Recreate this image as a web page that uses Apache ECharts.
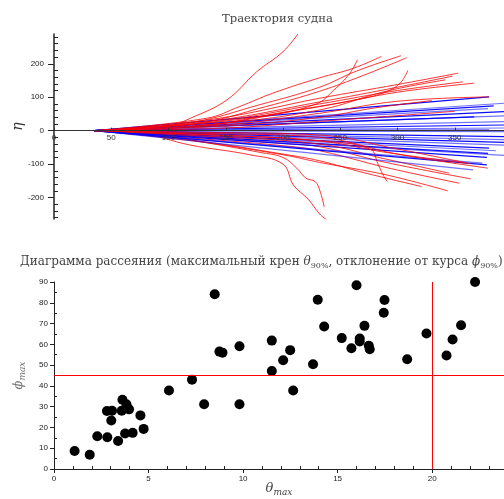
<!DOCTYPE html>
<html>
<head>
    <meta charset="utf-8">
    <title>Траектория судна</title>
    <script src="https://cdn.jsdelivr.net/npm/echarts@6.0.0/dist/echarts.min.js"></script>
    <style>
        body { margin: 0; background: #fff; }
        #chartmain { width: 504px; height: 499px; }
    </style>
</head>
<body>
<div id="chartmain"></div>
<script type="text/javascript">
    // траектории (xi, eta), крен выше порога - красные, остальные - синие
    var redTracks = [
        [[35,0],[98,12],[119,37],[151,92],[177,176],[200,236],[213,289]],
        [[35,0],[133,37],[162,72],[191,112],[232,158],[261,186],[286,222]],
        [[35,0],[120,25],[180,78],[232,130],[264,178],[303,224]],
        [[35,0],[125,22],[185,72],[232,118],[270,165],[308,218]],
        [[35,0],[120,12],[180,40],[229,80],[244,120],[258,170],[265,212]],
        [[35,0],[130,15],[200,55],[260,90],[287,112],[302,141],[309,180]],
        [[35,0],[140,35],[232,97],[300,138],[353,172]],
        [[35,0],[140,30],[232,86],[300,130],[348,163]],
        [[35,0],[140,25],[232,72],[300,115],[367,142]],
        [[35,0],[140,27],[232,80],[300,120],[357,146]],
        [[35,0],[140,20],[232,62],[290,118],[342,152]],
        [[35,0],[150,18],[232,52],[300,88],[380,101]],
        [[35,0],[150,14],[232,40],[280,68],[330,90]],
        [[35,0],[150,8],[232,28],[300,45],[350,58]],
        [[35,0],[90,-12],[140,-40],[180,-65],[200,-80],[212,-112],[220,-142],[228,-152],[232,-177],[236,-228]],
        [[35,0],[75,-7],[119,-43],[171,-72],[200,-100],[209,-162],[222,-205],[232,-249],[238,-266]],
        [[35,0],[120,-30],[200,-72],[232,-95],[290,-132],[344,-180]],
        [[35,0],[120,-22],[200,-45],[232,-60],[290,-110],[354,-157]],
        [[35,0],[120,-18],[200,-38],[232,-48],[290,-95],[364,-144]],
        [[35,0],[120,-28],[200,-70],[232,-90],[270,-125],[321,-167]],
        [[35,0],[130,-16],[232,-40],[290,-85],[345,-127]],
        [[35,0],[150,-14],[232,-30],[276,-55],[283,-100],[287,-130],[291,-152]],
        [[35,0],[130,-12],[232,-31],[290,-65],[360,-97]],
        [[35,0],[130,-8],[232,-20],[300,-70],[379,-112]],
        [[35,0],[130,-5],[232,-13],[300,-55],[364,-99]]
    ];
    var blueTracks = [
        [[35,0],[380,101]],
        [[35,0],[393,82]],
        [[35,0],[384,74]],
        [[35,0],[379,66]],
        [[35,0],[393,57]],
        [[35,0],[393,44]],
        [[35,0],[367,41]],
        [[35,0],[393,27]],
        [[35,0],[393,17]],
        [[35,0],[393,8]],
        [[35,0],[380,2]],
        [[35,0],[393,-3]],
        [[35,0],[393,-18]],
        [[35,0],[393,-27]],
        [[35,0],[393,-35]],
        [[35,0],[393,-43]],
        [[35,0],[380,-52]],
        [[35,0],[386,-60]],
        [[35,0],[379,-68]],
        [[35,0],[393,-74]],
        [[35,0],[378,-80]],
        [[35,0],[374,-97]],
        [[35,0],[378,-102]],
        [[35,0],[366,-117]]
    ];

    // диаграмма рассеяния
    var thetaMax = [1.09, 1.89, 2.29, 2.82, 2.80, 3.07, 3.03, 3.39, 3.62, 3.58, 3.83, 3.97, 3.76, 4.16, 4.57, 4.74,
        6.08, 7.30, 7.94, 8.50, 8.75, 8.91, 9.81, 9.81, 11.52, 11.52, 12.12, 12.49, 12.65, 13.70, 13.95, 14.29,
        15.22, 15.73, 16.00, 16.17, 16.17, 16.42, 16.65, 16.70, 17.48, 17.44, 18.68, 19.70, 20.76, 21.08, 21.53, 22.27];
    var phiMax = [8.7, 6.9, 15.8, 15.3, 27.9, 28.0, 23.3, 13.5, 33.3, 28.0, 31.2, 28.7, 17.1, 17.4, 25.8, 19.3,
        37.8, 43.0, 31.2, 84.1, 56.5, 56.0, 59.1, 31.2, 61.8, 47.2, 52.3, 57.2, 37.8, 50.4, 81.5, 68.6,
        63.0, 58.1, 88.4, 62.8, 61.4, 68.9, 59.3, 57.6, 81.3, 75.2, 52.8, 65.2, 54.6, 62.3, 69.2, 90.0];
    var thetaLimit = 20;
    var phiLimit = 45;

    // деления осей
    var xiTicks = [0, 50, 100, 150, 200, 250, 300, 350];
    var etaTicks = [-200, -100, 0, 100, 200];
    var etaMinorTicks = [-260, -240, -220, -180, -160, -140, -120, -80, -60, -40, -20, 20, 40, 60, 80, 120, 140, 160, 180, 220, 240, 260, 280];
    var thetaTicks = [0, 5, 10, 15, 20];
    var thetaMinorTicks = [1, 2, 3, 4, 6, 7, 8, 9, 11, 12, 13, 14, 16, 17, 18, 19, 21, 22, 23];
    var phiMinorTicks = [5, 15, 25, 35, 45, 55, 65, 75, 85];

    var serif = 'DejaVu Serif';
    var sans = 'Liberation Sans';

    function redLine(t) {
        return {
            type: 'line', xAxisIndex: 0, yAxisIndex: 0, data: t,
            symbol: 'none', smooth: 0.4, silent: true,
            lineStyle: { color: '#ff0000', width: 1, opacity: 0.8 }
        };
    }
    function blueLine(t, i) {
        return {
            type: 'line', xAxisIndex: 0, yAxisIndex: 0, data: t,
            symbol: 'none', silent: true,
            lineStyle: { color: '#0000ff', width: 1.2, opacity: i % 2 ? 0.55 : 0.95 }
        };
    }

    // красные и синие вперемешку, чтобы ни один цвет не закрывал другой целиком
    var series = [];
    var n = Math.max(redTracks.length, blueTracks.length);
    for (var k = 0; k < n; k++) {
        if (k < blueTracks.length) series.push(blueLine(blueTracks[k], k));
        if (k < redTracks.length) series.push(redLine(redTracks[k]));
    }
    series.push({
        type: 'scatter', xAxisIndex: 1, yAxisIndex: 2, clip: true,
        data: thetaMax.map(function (v, i) { return [v, phiMax[i]]; }),
        symbolSize: 10, itemStyle: { color: '#000', opacity: 1 },
        markLine: {
            silent: true, symbol: 'none', animation: false,
            label: { show: false },
            lineStyle: { color: '#ff0000', width: 1, type: 'solid' },
            data: [{ xAxis: thetaLimit }, { yAxis: phiLimit }]
        }
    });

    var tickLabel = { fontFamily: sans, fontSize: 8, color: '#222' };

    // верхняя панель: ось xi проходит через eta = 0
    var etaMin = -264, etaMax = 289, topGridTop = 34, topGridHeight = 185;
    var zeroOffset = -topGridHeight * (0 - etaMin) / (etaMax - etaMin);

    var myChart = echarts.init(document.getElementById('chartmain'));
    myChart.setOption({
        animation: false,
        title: [{
            text: 'Траектория судна', left: 217, top: 8,
            textStyle: { fontFamily: serif, fontSize: 11.6, fontWeight: 'normal', color: '#444' }
        }, {
            text: 'Диаграмма рассеяния (максимальный крен {i|θ}{s|90%}, отклонение от курса {i|ϕ}{s|90%})',
            left: 15, top: 249,
            textStyle: {
                fontFamily: serif, fontSize: 12, fontWeight: 'normal', color: '#444',
                rich: {
                    i: { fontFamily: serif, fontSize: 12, fontStyle: 'italic', color: '#444' },
                    s: { fontFamily: serif, fontSize: 8, color: '#444', padding: [8, 0, 0, 0] }
                }
            }
        }],
        grid: [
            { left: 54, top: topGridTop, right: 0, height: topGridHeight, outerBoundsMode: 'none', containLabel: false },
            { left: 54, top: 282, right: 0, height: 187, outerBoundsMode: 'none', containLabel: false }
        ],
        xAxis: [{
            gridIndex: 0, type: 'value', min: 0, max: 393, offset: zeroOffset, zlevel: 1,
            axisLine: { onZero: false, lineStyle: { color: '#333', width: 1 } },
            axisTick: { inside: true, length: 3, customValues: xiTicks, lineStyle: { color: '#333' } },
            axisLabel: { customValues: xiTicks, showMinLabel: true, hideOverlap: false, margin: 3, color: '#333', fontFamily: sans, fontSize: 8 },
            splitLine: { show: false }
        }, {
            gridIndex: 1, type: 'value', min: 0, max: 23.8,
            name: '{i|θ}{s|max}', nameLocation: 'middle', nameGap: 12, nameMoveOverlap: false,
            nameTextStyle: {
                rich: {
                    i: { fontFamily: serif, fontSize: 13, fontStyle: 'italic', color: '#444' },
                    s: { fontFamily: serif, fontSize: 9, fontStyle: 'italic', color: '#444', padding: [7, 0, 0, 0] }
                }
            },
            axisLine: { onZero: false, lineStyle: { color: '#222', width: 1 } },
            axisTick: { length: 4, customValues: thetaTicks, lineStyle: { color: '#222' } },
            axisLabel: Object.assign({ customValues: thetaTicks, margin: 6 }, tickLabel),
            splitLine: { show: false }
        }, {
            gridIndex: 1, type: 'value', min: 0, max: 23.8,
            axisLine: { show: false },
            axisTick: { length: 3, customValues: thetaMinorTicks, lineStyle: { color: '#222' } },
            axisLabel: { show: false },
            splitLine: { show: false }
        }],
        yAxis: [{
            gridIndex: 0, type: 'value', min: etaMin, max: etaMax,
            name: 'η', nameLocation: 'middle', nameGap: 29, nameRotate: 90, nameMoveOverlap: false,
            nameTextStyle: { fontFamily: serif, fontSize: 14, fontStyle: 'italic', color: '#333' },
            axisLine: { show: true, onZero: false, lineStyle: { color: '#222', width: 1.5 } },
            axisTick: { length: 6, customValues: etaTicks, lineStyle: { color: '#222' } },
            axisLabel: Object.assign({ customValues: etaTicks, margin: 10 }, tickLabel),
            splitLine: { show: false }
        }, {
            gridIndex: 0, type: 'value', min: etaMin, max: etaMax,
            axisLine: { show: false },
            axisTick: { length: 4, customValues: etaMinorTicks, lineStyle: { color: '#222' } },
            axisLabel: { show: false },
            splitLine: { show: false }
        }, {
            gridIndex: 1, type: 'value', min: 0, max: 90, interval: 10,
            name: '{i|ϕ}{s|max}', nameLocation: 'middle', nameGap: 27, nameRotate: 90, nameMoveOverlap: false,
            nameTextStyle: {
                rich: {
                    i: { fontFamily: serif, fontSize: 13, fontStyle: 'italic', color: '#777' },
                    s: { fontFamily: serif, fontSize: 9, fontStyle: 'italic', color: '#777', padding: [7, 0, 0, 0] }
                }
            },
            axisLine: { show: true, onZero: false, lineStyle: { color: '#222', width: 1 } },
            axisTick: { length: 4, lineStyle: { color: '#222' } },
            axisLabel: Object.assign({ margin: 6 }, tickLabel),
            splitLine: { show: false }
        }, {
            gridIndex: 1, type: 'value', min: 0, max: 90,
            axisLine: { show: false },
            axisTick: { length: 3, customValues: phiMinorTicks, lineStyle: { color: '#222' } },
            axisLabel: { show: false },
            splitLine: { show: false }
        }],
        series: series
    });
</script>
</body>
</html>
